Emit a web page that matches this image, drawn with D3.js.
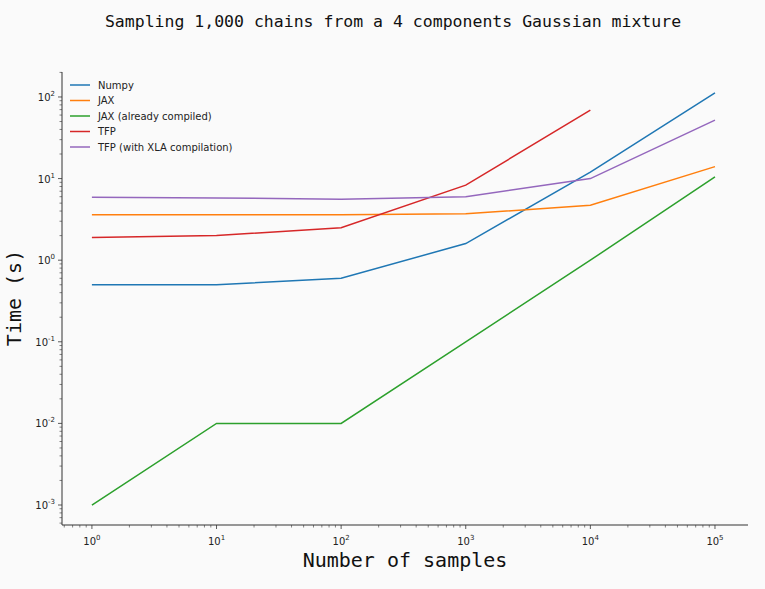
<!DOCTYPE html>
<html><head><meta charset="utf-8">
<script src="https://cdn.jsdelivr.net/npm/d3@7"></script>
<style>body{margin:0;background:#fafafa}</style>
</head><body>
<svg id="chart" width="765" height="589" font-family="DejaVu Sans, sans-serif"></svg>
<script>
var samples = [1, 10, 100, 1000, 10000, 100000];
var series = [
  {name: 'Numpy', color: '#1f77b4', values: [0.5, 0.5, 0.6, 1.6, 12, 112]},
  {name: 'JAX', color: '#ff7f0e', values: [3.6, 3.6, 3.6, 3.7, 4.7, 14]},
  {name: 'JAX (already compiled)', color: '#2ca02c', values: [0.001, 0.01, 0.01, 0.1, 1, 10.5]},
  {name: 'TFP', color: '#d62728', values: [1.9, 2.0, 2.5, 8.3, 69]},
  {name: 'TFP (with XLA compilation)', color: '#9467bd', values: [5.9, 5.8, 5.6, 6.0, 10, 52]}
];
var xExps = [0, 1, 2, 3, 4, 5];
var yExps = [-3, -2, -1, 0, 1, 2];

var svg = d3.select('#chart');
svg.append('rect').attr('width', 765).attr('height', 589).attr('fill', '#fafafa');

var x = d3.scaleLog().domain([Math.pow(10, -0.24), Math.pow(10, 5.265)]).range([62, 748]);
var y = d3.scaleLog().domain([Math.pow(10, -3.245), Math.pow(10, 2.306)]).range([525, 72]);

//minor ticks
var minors = [];
for (var e = -4; e <= 5; e++) for (var m = 2; m < 10; m++) minors.push(m * Math.pow(10, e));
var xMin = minors.filter(function(v) { return v >= x.domain()[0] && v <= x.domain()[1]; });
var yMin = minors.filter(function(v) { return v >= y.domain()[0] && v <= y.domain()[1]; });
svg.selectAll('.xm').data(xMin).enter().append('line')
  .attr('x1', function(d) { return x(d); }).attr('x2', function(d) { return x(d); })
  .attr('y1', 525).attr('y2', 527.5).attr('stroke', '#333').attr('stroke-width', 0.6);
svg.selectAll('.ym').data(yMin).enter().append('line')
  .attr('y1', function(d) { return y(d); }).attr('y2', function(d) { return y(d); })
  .attr('x1', 62).attr('x2', 59.5).attr('stroke', '#333').attr('stroke-width', 0.6);

//major ticks
svg.selectAll('.xt').data(xExps).enter().append('line')
  .attr('x1', function(d) { return x(Math.pow(10, d)); }).attr('x2', function(d) { return x(Math.pow(10, d)); })
  .attr('y1', 525).attr('y2', 529).attr('stroke', '#333').attr('stroke-width', 0.8);
svg.selectAll('.yt').data(yExps).enter().append('line')
  .attr('y1', function(d) { return y(Math.pow(10, d)); }).attr('y2', function(d) { return y(Math.pow(10, d)); })
  .attr('x1', 62).attr('x2', 58).attr('stroke', '#333').attr('stroke-width', 0.8);

var xl = svg.selectAll('.xl').data(xExps).enter().append('text')
  .attr('x', function(d) { return x(Math.pow(10, d)); }).attr('y', 545)
  .attr('text-anchor', 'middle').attr('font-size', 10).attr('fill', '#222');
xl.append('tspan').text('10');
xl.append('tspan').attr('dy', -5).attr('font-size', 7).text(function(d) { return d; });
var yl = svg.selectAll('.yl').data(yExps).enter().append('text')
  .attr('x', 55).attr('y', function(d) { return y(Math.pow(10, d)) + 4; })
  .attr('text-anchor', 'end').attr('font-size', 10).attr('fill', '#222');
yl.append('tspan').text('10');
yl.append('tspan').attr('dy', -5).attr('font-size', 7).text(function(d) { return d; });

//spines
svg.append('line').attr('x1', 62).attr('x2', 62).attr('y1', 72).attr('y2', 525).attr('stroke', '#333');
svg.append('line').attr('x1', 62).attr('x2', 748).attr('y1', 525).attr('y2', 525).attr('stroke', '#333');

//lines
var line = d3.line().x(function(d, i) { return x(samples[i]); }).y(function(d) { return y(d); });
svg.selectAll('.series').data(series).enter().append('path')
  .attr('d', function(d) { return line(d.values); })
  .attr('fill', 'none').attr('stroke', function(d) { return d.color; }).attr('stroke-width', 1.5);

//legend
var lg = svg.selectAll('.lg').data(series).enter().append('g')
  .attr('transform', function(d, i) { return 'translate(70,' + (85 + i * 15.5) + ')'; });
lg.append('line').attr('x1', 0).attr('x2', 20).attr('stroke', function(d) { return d.color; }).attr('stroke-width', 1.5);
lg.append('text').attr('x', 28).attr('y', 3.5).attr('font-size', 10).attr('fill', '#222').text(function(d) { return d.name; });

//titles
var mono = '"DejaVu Sans Mono", "Liberation Mono", monospace';
svg.append('text').attr('x', 393).attr('y', 27).attr('text-anchor', 'middle')
  .style('font-family', mono).attr('font-size', 16.5).attr('fill', '#111')
  .text('Sampling 1,000 chains from a 4 components Gaussian mixture');
svg.append('text').attr('x', 405).attr('y', 567).attr('text-anchor', 'middle')
  .style('font-family', mono).attr('font-size', 20).attr('fill', '#111')
  .text('Number of samples');
svg.append('text').attr('transform', 'translate(21,298) rotate(-90)').attr('text-anchor', 'middle')
  .style('font-family', mono).attr('font-size', 20).attr('fill', '#111')
  .text('Time (s)');
</script>
</body></html>
